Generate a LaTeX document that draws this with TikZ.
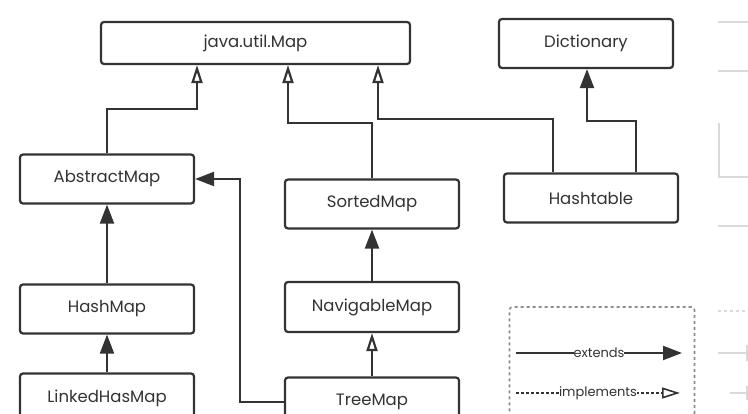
\documentclass[tikz,border=0pt]{standalone}
\usepackage{fontspec}
\setmainfont{Poppins}
\usetikzlibrary{arrows.meta}
\definecolor{ink}{HTML}{333333}
\tikzset{
  cls/.style={draw=ink, line width=2.2pt, rounded corners=3pt, text=ink,
    font=\fontsize{16.5}{18}\selectfont, minimum width=174pt, minimum height=49pt, inner sep=0pt},
  ext/.style={draw=ink, line width=2.2pt, -{Triangle[length=19pt,width=14pt]}},
  impl/.style={draw=ink, line width=2.2pt, -{Triangle[open,length=18pt,width=11pt]}},
  ghost/.style={draw=black!15, line width=1.2pt}
}
\begin{document}
\begin{tikzpicture}[x=1pt,y=-1pt]
\useasboundingbox[fill=white] (0,0) rectangle (748,414);
%\draw[help lines] (0,0) grid[step=50] (748,414);
% classes
\node[cls, minimum width=309pt, minimum height=42pt] (map) at (255.5,43) {java.util.Map};
\node[cls] (dictionary) at (586,43.5) {Dictionary};
\node[cls] (abstractmap) at (107,179) {AbstractMap};
\node[cls] (sortedmap) at (372,204) {SortedMap};
\node[cls] (hashtable) at (591,198) {Hashtable};
\node[cls] (hashmap) at (107,309) {HashMap};
\node[cls, minimum height=50pt] (navigablemap) at (372,307) {NavigableMap};
\node[cls] (linkedhasmap) at (107,398) {LinkedHasMap};
\node[cls] (treemap) at (372,402) {TreeMap};
% implements
\draw[impl] (abstractmap) |- (197,109) -| ([xshift=-58.5pt]map.south);
\draw[impl] (sortedmap) |- (288,123) -| ([xshift=32.5pt]map.south);
\draw[impl] ([xshift=-38pt]hashtable.north) |- (378,119) -| ([xshift=122.5pt]map.south);
\draw[impl] (treemap) -- (navigablemap);
% extends
\draw[ext] ([xshift=45pt]hashtable.north) |- (587,121) -- ([xshift=1pt]dictionary.south);
\draw[ext] (hashmap) -- (abstractmap);
\draw[ext] (linkedhasmap) -- (hashmap);
\draw[ext] (navigablemap) -- (sortedmap);
\draw[ext] (treemap) -| (240,179) -- (abstractmap);
% legend
\node[draw=black!45, dashed, line width=1.6pt, rounded corners=3pt,
  minimum width=185pt, minimum height=130pt] (legend) at (602,372) {};
\coordinate (e1) at (516,353);
\coordinate (e2) at (682,353);
\coordinate (i1) at (516,393);
\coordinate (i2) at (680,393);
\draw[ext] (e1) -- node[fill=white, inner sep=0pt, text=ink, font=\fontsize{13}{15}\selectfont]{extends} (e2);
\draw[impl, densely dashed, line width=1.6pt] (i1) -- node[fill=white, inner sep=0pt, text=ink, font=\fontsize{13}{15}\selectfont]{implements} (i2);
% faint edge of a neighbouring picture
\draw[ghost] (718,22) -- (748,22);
\draw[ghost] (718,71) -- (748,71);
\draw[ghost] (719,123) |- (748,177);
\draw[ghost] (718,226) -- (748,226);
\draw[ghost, dashed] (718,311) -- (748,311);
\draw[ghost] (718,353) -- (747,353) (747,345) -- (747,361);
\draw[ghost] (730,393) -- (747,393) (747,386) -- (747,400);
\end{tikzpicture}
\end{document}
